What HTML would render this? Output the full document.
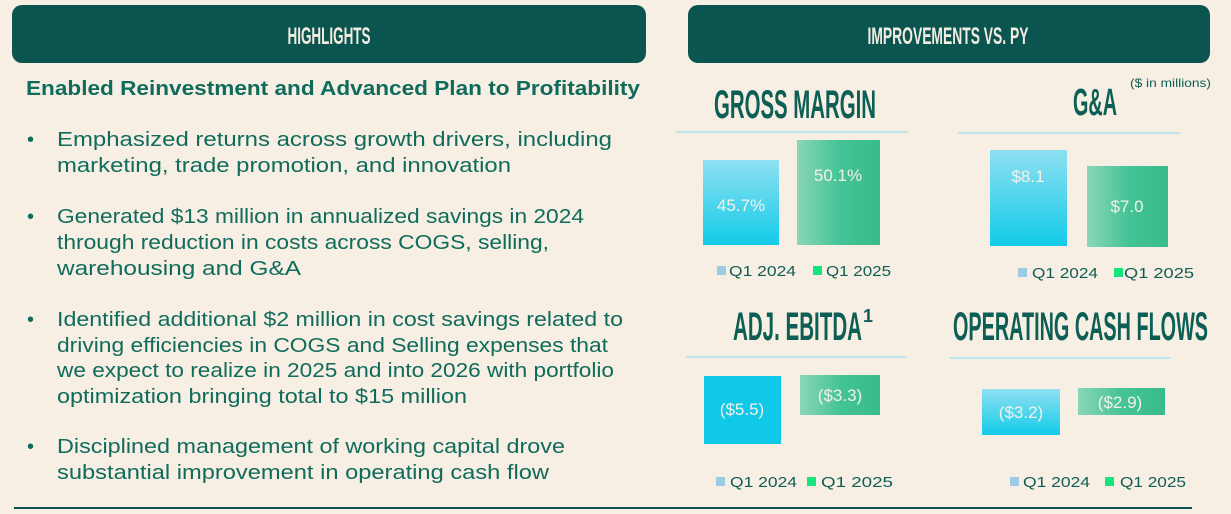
<!DOCTYPE html>
<html><head><meta charset="utf-8"><style>
html,body{margin:0;padding:0;background:#f7efe3;}
svg{display:block}
.b{font-family:"Liberation Sans",sans-serif;font-size:20px;fill:#0f6b5c;}
.t{font-family:"Liberation Sans Narrow","Liberation Sans",sans-serif;font-weight:bold;fill:#0d5e54;}
.h{font-family:"Liberation Sans Narrow","Liberation Sans",sans-serif;font-weight:bold;fill:#f3ece0;font-size:24px;}
.v{font-family:"Liberation Sans",sans-serif;font-size:17px;fill:#f4f1e8;text-anchor:middle;}
.l{font-family:"Liberation Sans",sans-serif;font-size:15px;fill:#0f5e55;}
</style></head><body>
<svg width="1231" height="514" xmlns="http://www.w3.org/2000/svg">
<defs>
<linearGradient id="c" x1="0" y1="0" x2="0" y2="1"><stop offset="0" stop-color="#8fe0f2"/><stop offset="1" stop-color="#12cbe8"/></linearGradient>
<linearGradient id="g" x1="0" y1="0" x2="1" y2="0"><stop offset="0" stop-color="#8ad6b8"/><stop offset="0.5" stop-color="#45c497"/><stop offset="1" stop-color="#38bb8b"/></linearGradient>
</defs>
<rect x="12" y="5" width="634" height="58" rx="10" fill="#0b5550"/>
<rect x="688" y="5" width="522" height="58" rx="10" fill="#0b5550"/>
<text class="h" x="329" y="44" text-anchor="middle" textLength="83" lengthAdjust="spacingAndGlyphs">HIGHLIGHTS</text>
<text class="h" x="948" y="44" text-anchor="middle" textLength="161" lengthAdjust="spacingAndGlyphs">IMPROVEMENTS VS. PY</text>
<text class="b" x="26" y="95" font-weight="bold" textLength="614" lengthAdjust="spacingAndGlyphs">Enabled Reinvestment and Advanced Plan to Profitability</text>
<g class="b">
<text x="27" y="146">•</text><text x="27" y="223">•</text><text x="27" y="326">•</text><text x="27" y="453">•</text>
<text x="57" y="146" textLength="555" lengthAdjust="spacingAndGlyphs">Emphasized returns across growth drivers, including</text>
<text x="57" y="172" textLength="454" lengthAdjust="spacingAndGlyphs">marketing, trade promotion, and innovation</text>
<text x="57" y="223" textLength="527" lengthAdjust="spacingAndGlyphs">Generated $13 million in annualized savings in 2024</text>
<text x="57" y="249" textLength="492" lengthAdjust="spacingAndGlyphs">through reduction in costs across COGS, selling,</text>
<text x="57" y="275" textLength="244" lengthAdjust="spacingAndGlyphs">warehousing and G&amp;A</text>
<text x="57" y="326" textLength="566" lengthAdjust="spacingAndGlyphs">Identified additional $2 million in cost savings related to</text>
<text x="57" y="352" textLength="551" lengthAdjust="spacingAndGlyphs">driving efficiencies in COGS and Selling expenses that</text>
<text x="57" y="377" textLength="557" lengthAdjust="spacingAndGlyphs">we expect to realize in 2025 and into 2026 with portfolio</text>
<text x="57" y="403" textLength="410" lengthAdjust="spacingAndGlyphs">optimization bringing total to $15 million</text>
<text x="57" y="453" textLength="508" lengthAdjust="spacingAndGlyphs">Disciplined management of working capital drove</text>
<text x="57" y="479" textLength="492" lengthAdjust="spacingAndGlyphs">substantial improvement in operating cash flow</text>
</g>
<!-- titles -->
<text class="t" x="714" y="118" font-size="40" textLength="162" lengthAdjust="spacingAndGlyphs">GROSS MARGIN</text>
<text class="t" x="1073" y="115" font-size="38" textLength="44" lengthAdjust="spacingAndGlyphs">G&amp;A</text>
<text x="1130" y="87" font-family="Liberation Sans,sans-serif" font-size="12" fill="#0f5e55" textLength="81" lengthAdjust="spacingAndGlyphs">($ in millions)</text>
<text class="t" x="733" y="340" font-size="40" textLength="129" lengthAdjust="spacingAndGlyphs">ADJ. EBITDA</text>
<text class="t" x="863" y="322" font-size="18">1</text>
<text class="t" x="953" y="340" font-size="40" textLength="255" lengthAdjust="spacingAndGlyphs">OPERATING CASH FLOWS</text>
<g stroke="#bfe6f0" stroke-width="2">
<line x1="676" y1="132" x2="908" y2="132"/><line x1="958" y1="133" x2="1180" y2="133"/>
<line x1="686" y1="357" x2="907" y2="357"/><line x1="950" y1="358" x2="1171" y2="358"/>
</g>
<line x1="14" y1="508" x2="1192" y2="508" stroke="#0b5550" stroke-width="2"/>
<!-- bars -->
<rect x="703" y="160" width="76" height="85" fill="url(#c)"/>
<rect x="797" y="140" width="83" height="105" fill="url(#g)"/>
<text class="v" x="741" y="211">45.7%</text><text class="v" x="838" y="181">50.1%</text>
<rect x="990" y="150" width="77" height="96" fill="url(#c)"/>
<rect x="1087" y="166" width="81" height="81" fill="url(#g)"/>
<text class="v" x="1028" y="182">$8.1</text><text class="v" x="1127" y="212">$7.0</text>
<rect x="704" y="376" width="77" height="68" fill="#10c8e8"/>
<rect x="800" y="375" width="80" height="40" fill="url(#g)"/>
<text class="v" x="742" y="415">($5.5)</text><text class="v" x="840" y="401">($3.3)</text>
<rect x="982" y="389" width="78" height="46" fill="url(#c)"/>
<rect x="1078" y="388" width="87" height="27" fill="url(#g)"/>
<text class="v" x="1021" y="418">($3.2)</text><text class="v" x="1120" y="408">($2.9)</text>
<!-- legends -->
<g class="l">
<rect x="717" y="266" width="9" height="9" fill="#9ccbe4"/><text x="729" y="276" textLength="67" lengthAdjust="spacingAndGlyphs">Q1 2024</text>
<rect x="813" y="266" width="9" height="9" fill="#16e47e"/><text x="826" y="276" textLength="65" lengthAdjust="spacingAndGlyphs">Q1 2025</text>
<rect x="1018" y="268" width="9" height="9" fill="#9ccbe4"/><text x="1032" y="278" textLength="66" lengthAdjust="spacingAndGlyphs">Q1 2024</text>
<rect x="1114" y="268" width="9" height="9" fill="#16e47e"/><text x="1124" y="278" textLength="70" lengthAdjust="spacingAndGlyphs">Q1 2025</text>
<rect x="716" y="477" width="9" height="9" fill="#9ccbe4"/><text x="730" y="487" textLength="67" lengthAdjust="spacingAndGlyphs">Q1 2024</text>
<rect x="807" y="477" width="9" height="9" fill="#16e47e"/><text x="821" y="487" textLength="72" lengthAdjust="spacingAndGlyphs">Q1 2025</text>
<rect x="1010" y="477" width="9" height="9" fill="#9ccbe4"/><text x="1023" y="487" textLength="67" lengthAdjust="spacingAndGlyphs">Q1 2024</text>
<rect x="1105" y="477" width="9" height="9" fill="#16e47e"/><text x="1120" y="487" textLength="66" lengthAdjust="spacingAndGlyphs">Q1 2025</text>
</g>
</svg>
</body></html>
